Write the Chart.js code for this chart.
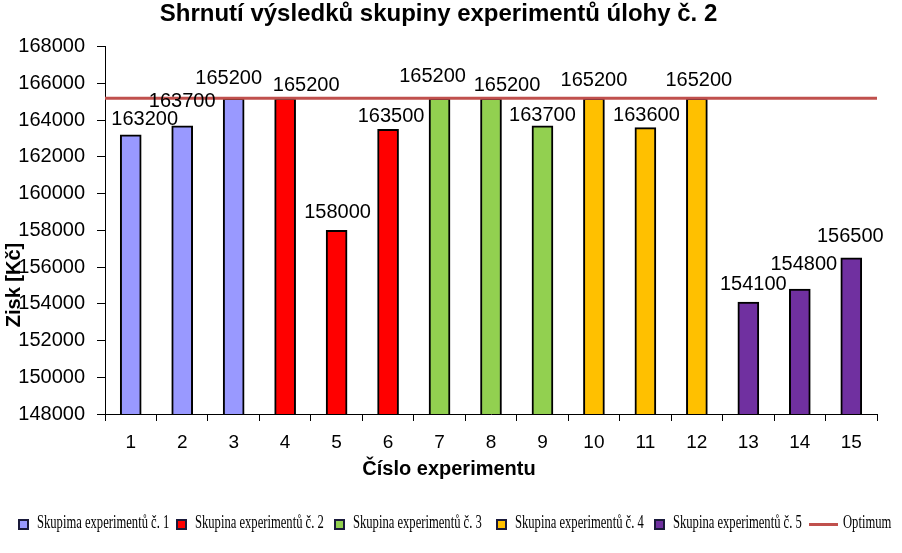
<!DOCTYPE html>
<html>
<head>
<meta charset="utf-8">
<script src="https://cdn.jsdelivr.net/npm/chart.js@4"></script>
<style>
  body { margin: 0; background: #fff; }
  #wrap { position: relative; width: 902px; height: 553px; }
  #legend { position: absolute; left: 0; top: 0; width: 902px; height: 553px; pointer-events: none;
    font-family: "Liberation Serif", "Times New Roman", serif; font-size: 18px; color: #000; }
  #legend .box { position: absolute; top: 519px; width: 7px; height: 7px; border: 2px solid #1a1a3a; }
  #legend .line { position: absolute; top: 523px; left: 809px; width: 29px; height: 3px; background: #C0504D; }
  #legend .txt { position: absolute; top: 512px; white-space: nowrap; transform: scaleX(0.7); transform-origin: left center; }
</style>
</head>
<body>
<div id="wrap">
  <canvas id="chart" width="902" height="553"></canvas>
  <div id="legend"></div>
</div>
<script>
const experiments = ["1", "2", "3", "4", "5", "6", "7", "8", "9", "10", "11", "12", "13", "14", "15"];
const profit = [163200, 163700, 165200, 165200, 158000, 163500, 165200, 165200, 163700, 165200, 163600, 165200, 154100, 154800, 156500];
const groupOf = [0, 0, 0, 1, 1, 1, 2, 2, 2, 3, 3, 3, 4, 4, 4];
const groupNames = ["Skupima experimentů č. 1", "Skupina experimentů č. 2", "Skupina experimentů č. 3", "Skupina experimentů č. 4", "Skupina experimentů č. 5"];
const groupColors = ["#9999FF", "#FF0000", "#92D050", "#FFC000", "#7030A0"];
const optimum = 165200;

// label placement like in the original (shift x, gap above bar top)
const labelNudge = [[14, 10], [0, 19], [-5, 14], [21, 7], [1, 12], [3, 7], [-7, 16], [16, 7],
  [0, 5], [0, 12], [1, 7], [2, 12], [5, 12], [4, 19], [-1, 16]];

const font = "'Liberation Sans', Arial, sans-serif";

const extraText = {
  id: "extraText",
  afterDatasetsDraw(chart) {
    const ctx = chart.ctx;
    const meta = chart.getDatasetMeta(0);
    ctx.save();
    ctx.font = "20px " + font;
    ctx.fillStyle = "#000";
    ctx.textAlign = "center";
    ctx.textBaseline = "alphabetic";
    meta.data.forEach((bar, i) => {
      ctx.fillText(profit[i], bar.x + labelNudge[i][0], bar.y - labelNudge[i][1]);
    });
    // axis titles
    ctx.font = "bold 20px " + font;
    ctx.textBaseline = "middle";
    ctx.fillText("Číslo experimentu", 449, 469);
    ctx.translate(20, 285);
    ctx.rotate(-Math.PI / 2);
    ctx.textBaseline = "alphabetic";
    ctx.fillText("Zisk [Kč]", 0, 0);
    ctx.restore();
  }
};

new Chart(document.getElementById("chart"), {
  data: {
    labels: experiments,
    datasets: [
      {
        type: "bar",
        data: profit,
        backgroundColor: groupOf.map((g) => groupColors[g]),
        borderColor: "#000",
        borderWidth: 2,
        borderSkipped: "bottom",
        barThickness: 21,
        grouped: false,
        order: 2,
      },
      {
        type: "line",
        label: "Optimum",
        xAxisID: "x2",
        data: [{ x: 0, y: optimum }, { x: 15, y: optimum }],
        borderColor: "#C0504D",
        borderWidth: 3,
        pointRadius: 0,
        order: 1,
      },
    ],
  },
  plugins: [extraText],
  options: {
    responsive: false,
    animation: false,
    layout: { padding: { left: 0, right: 25, top: 0, bottom: 0 } },
    plugins: {
      legend: { display: false },
      tooltip: { enabled: false },
      title: {
        display: true,
        text: "Shrnutí výsledků skupiny experimentů úlohy č. 2",
        color: "#000",
        font: { family: font, size: 24, weight: "bold" },
        padding: { top: 0, bottom: 18 },
      },
    },
    scales: {
      x: {
        offset: true,
        afterFit: (s) => { s.height = 139; },
        grid: { offset: true, drawOnChartArea: false, color: "#000", tickLength: 7 },
        border: { color: "#000", width: 1 },
        ticks: { color: "#000", font: { family: font, size: 19 }, padding: 10 },
      },
      x2: {
        type: "linear",
        display: false,
        min: 0,
        max: 15,
      },
      y: {
        min: 148000,
        max: 168000,
        afterFit: (s) => { s.width = 105; },
        grid: { drawOnChartArea: false, color: "#000", tickLength: 8 },
        border: { color: "#000", width: 1 },
        ticks: {
          stepSize: 2000,
          color: "#000",
          font: { family: font, size: 20 },
          padding: 12,
          callback: (v) => String(v),
        },
      },
    },
  },
});

const legend = document.getElementById("legend");
const boxLeft = [18, 176, 334, 496, 654];
groupNames.forEach((name, i) => {
  const box = document.createElement("div");
  box.className = "box";
  box.style.left = boxLeft[i] + "px";
  box.style.background = groupColors[i];
  legend.appendChild(box);
  const txt = document.createElement("div");
  txt.className = "txt";
  txt.style.left = (boxLeft[i] + 19) + "px";
  txt.textContent = name;
  legend.appendChild(txt);
});
const line = document.createElement("div");
line.className = "line";
legend.appendChild(line);
const optTxt = document.createElement("div");
optTxt.className = "txt";
optTxt.style.left = "843px";
optTxt.textContent = "Optimum";
legend.appendChild(optTxt);
</script>
</body>
</html>
